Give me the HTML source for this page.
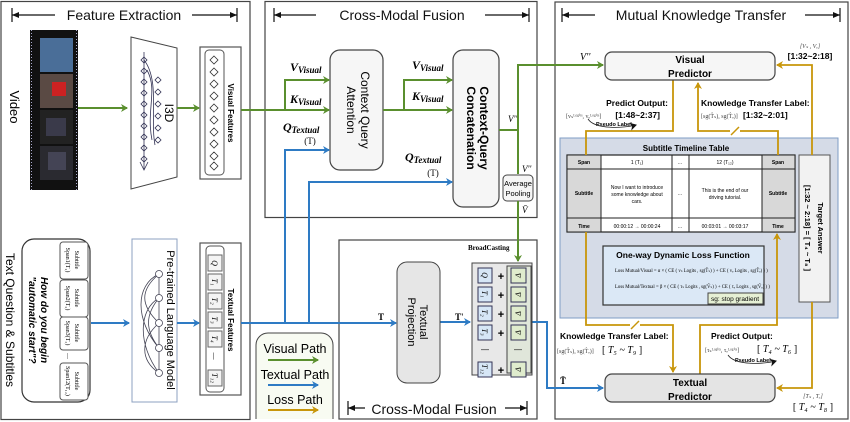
<!DOCTYPE html>
<html><head><meta charset="utf-8"><style>
html,body{margin:0;padding:0;background:#fff;}
svg{display:block;font-family:"Liberation Sans",sans-serif;}
.h{font-size:14px;fill:#111;}
.sr{font-family:"Liberation Serif",serif;}
</style></head><body>
<svg width="850" height="422" viewBox="0 0 850 422" xmlns="http://www.w3.org/2000/svg">
<defs>
<marker id="ag" markerWidth="8" markerHeight="8" refX="6" refY="4" orient="auto" markerUnits="userSpaceOnUse"><path d="M0,0 L7,4 L0,8 L2,4z" fill="#5a8f2e"/></marker>
<marker id="ab" markerWidth="8" markerHeight="8" refX="6" refY="4" orient="auto" markerUnits="userSpaceOnUse"><path d="M0,0 L7,4 L0,8 L2,4z" fill="#2e7bc4"/></marker>
<marker id="ay" markerWidth="8" markerHeight="8" refX="6" refY="4" orient="auto" markerUnits="userSpaceOnUse"><path d="M0,0 L7,4 L0,8 L2,4z" fill="#c8960a"/></marker>
<marker id="ak" markerWidth="8" markerHeight="8" refX="6" refY="4" orient="auto" markerUnits="userSpaceOnUse"><path d="M0,0 L7,4 L0,8 L2,4z" fill="#111"/></marker>
</defs>
<g fill="none" stroke="#444" stroke-width="1.2">
<rect x="1" y="1.5" width="249" height="418"/>
<rect x="265" y="1.5" width="272" height="216"/>
<rect x="339" y="240" width="198" height="179"/>
<rect x="555" y="2" width="293" height="417"/>
</g>
<g stroke="#111" stroke-width="1.2" fill="none">
<path d="M12,8V22M12,15H55"/><path d="M192,15H237M237,8V22"/>
<path d="M274,8V22M274,15H316"/><path d="M485,15H529M529,8V22"/>
<path d="M562,8V22M562,15H595"/><path d="M805,15H840M840,8V22"/>
<path d="M348,401V415M348,408H365"/><path d="M505,408H527M527,401V415"/>
</g>
<g fill="#111"><path d="M12,15l7,-3v6z"/><path d="M237,15l-7,-3v6z"/><path d="M274,15l7,-3v6z"/><path d="M529,15l-7,-3v6z"/><path d="M562,15l7,-3v6z"/><path d="M840,15l-7,-3v6z"/><path d="M348,408l7,-3v6z"/><path d="M527,408l-7,-3v6z"/></g>
<text x="124" y="20" text-anchor="middle" class="h">Feature Extraction</text>
<text x="402" y="20" text-anchor="middle" class="h">Cross-Modal Fusion</text>
<text x="701" y="20" text-anchor="middle" class="h">Mutual Knowledge Transfer</text>
<text x="434" y="414" text-anchor="middle" class="h">Cross-Modal Fusion</text>

<rect x="30" y="30" width="48" height="160" fill="#111"/>
<rect x="40" y="38" width="33" height="34" fill="#4a6e98"/>
<rect x="40" y="74" width="33" height="34" fill="#5a4a44"/><rect x="52" y="82" width="14" height="14" fill="#c22"/>
<rect x="40" y="110" width="33" height="34" fill="#222"/><rect x="46" y="118" width="20" height="18" fill="#3a3a4a"/>
<rect x="40" y="146" width="33" height="34" fill="#2a2a30"/><rect x="48" y="152" width="18" height="18" fill="#445"/>
<line x1="31.5" y1="30" x2="31.5" y2="190" stroke="#aac" stroke-dasharray="1 2"/><line x1="76.5" y1="30" x2="76.5" y2="190" stroke="#aac" stroke-dasharray="1 2"/>
<text transform="translate(10,107) rotate(90)" text-anchor="middle" font-size="13">Video</text>
<path d="M131,37 L177,48 L177,177 L131,189Z" fill="#fff" stroke="#444"/>
<g fill="none" stroke="#335" stroke-width="0.8">
<path d="M144,52v118"/><path d="M140,162l4,8l4,-8"/>
<path d="M144,57l3,3l-3,3l-3,-3z M144,68l3,3l-3,3l-3,-3z M144,79l3,3l-3,3l-3,-3z M144,90l3,3l-3,3l-3,-3z M144,101l3,3l-3,3l-3,-3z M144,112l3,3l-3,3l-3,-3z M144,123l3,3l-3,3l-3,-3z M144,134l3,3l-3,3l-3,-3z M144,145l3,3l-3,3l-3,-3z M144,156l3,3l-3,3l-3,-3z"/>
<path d="M158,77l3,3l-3,3l-3,-3z M158,89l3,3l-3,3l-3,-3z M158,101l3,3l-3,3l-3,-3z M158,113l3,3l-3,3l-3,-3z M158,125l3,3l-3,3l-3,-3z M158,137l3,3l-3,3l-3,-3z"/>
<path d="M144,60C160,80 150,120 155,145M147,70C158,90 146,110 152,140"/>
</g>
<text transform="translate(165,113) rotate(90)" text-anchor="middle" font-size="12">I3D</text>
<rect x="200" y="47" width="41" height="132" fill="#fff" stroke="#555" stroke-width="1.2"/>
<rect x="205" y="50" width="19" height="125" rx="4" fill="#fff" stroke="#555"/>
<g fill="none" stroke="#333" stroke-width="0.8">
<path d="M214,56l4,4l-4,4l-4,-4z M214,68l4,4l-4,4l-4,-4z M214,80l4,4l-4,4l-4,-4z M214,92l4,4l-4,4l-4,-4z M214,104l4,4l-4,4l-4,-4z M214,116l4,4l-4,4l-4,-4z M214,128l4,4l-4,4l-4,-4z M214,140l4,4l-4,4l-4,-4z M214,152l4,4l-4,4l-4,-4z M214,162l4,4l-4,4l-4,-4z"/></g>
<text transform="translate(228,113) rotate(90)" text-anchor="middle" font-size="8" font-weight="bold">Visual Features</text>

<rect x="22" y="239" width="68" height="163" rx="12" fill="#fff" stroke="#333" stroke-width="1.2"/>
<g fill="#fff" stroke="#555"><rect x="60" y="242" width="28" height="37" rx="3"/><rect x="60" y="280" width="28" height="37" rx="3"/><rect x="60" y="317" width="28" height="33" rx="3"/><rect x="60" y="363" width="28" height="37" rx="3"/></g>
<g font-family="Liberation Serif,serif" font-size="6">
<text transform="translate(75,260) rotate(90)" text-anchor="middle">Subtitle</text><text transform="translate(66,260) rotate(90)" text-anchor="middle">Span1(T₁)</text>
<text transform="translate(75,298) rotate(90)" text-anchor="middle">Subtitle</text><text transform="translate(66,298) rotate(90)" text-anchor="middle">Span2(T₂)</text>
<text transform="translate(75,333) rotate(90)" text-anchor="middle">Subtitle</text><text transform="translate(66,333) rotate(90)" text-anchor="middle">Span3(T₃)</text>
<text transform="translate(75,381) rotate(90)" text-anchor="middle">Subtitle</text><text transform="translate(66,381) rotate(90)" text-anchor="middle">Span12(T₁₂)</text>
<text transform="translate(66,356) rotate(90)" text-anchor="middle">—</text>
</g>
<text transform="translate(41,320) rotate(90)" text-anchor="middle" font-size="10" font-weight="bold" font-style="italic">How do you begin</text>
<text transform="translate(29,320) rotate(90)" text-anchor="middle" font-size="10" font-weight="bold" font-style="italic">"automatic start"?</text>
<text transform="translate(6,320) rotate(90)" text-anchor="middle" font-size="12">Text Question &amp; Subtitles</text>
<rect x="132" y="239" width="45" height="163" fill="#fff" stroke="#8ca0c0"/>
<g fill="#fff" stroke="#445" stroke-width="0.8">
<path d="M159,274v99" fill="none"/>
<path d="M159,274C135,285 135,320 159,348M159,298C138,310 138,345 159,373M159,274C140,290 140,305 159,323M159,298C145,315 145,330 159,348M159,323C140,340 140,360 159,373" fill="none"/>
<circle cx="159" cy="274" r="3.5"/><circle cx="159" cy="298" r="3.5"/><circle cx="159" cy="323" r="3.5"/><circle cx="159" cy="348" r="3.5"/><circle cx="159" cy="373" r="3.5"/></g>
<text transform="translate(167,320) rotate(90)" text-anchor="middle" font-size="11">Pre-trained Language Model</text>
<rect x="200" y="243" width="41" height="152" fill="#fff" stroke="#555" stroke-width="1.2"/>
<rect x="206" y="246" width="18" height="146" rx="4" fill="#fff" stroke="#555"/>
<g fill="#f4f4f4" stroke="#666"><rect x="208" y="255" width="14" height="16"/><rect x="208" y="274" width="14" height="16"/><rect x="208" y="293" width="14" height="16"/><rect x="208" y="312" width="14" height="16"/><rect x="208" y="331" width="14" height="16"/><rect x="208" y="370" width="14" height="16"/></g>
<g font-family="Liberation Serif,serif" font-style="italic" font-size="8">
<text transform="translate(212,263) rotate(90)" text-anchor="middle">Q</text><text transform="translate(212,282) rotate(90)" text-anchor="middle">T₁</text><text transform="translate(212,301) rotate(90)" text-anchor="middle">T₂</text><text transform="translate(212,320) rotate(90)" text-anchor="middle">T₃</text><text transform="translate(212,339) rotate(90)" text-anchor="middle">T₄</text><text transform="translate(212,378) rotate(90)" text-anchor="middle">T₁₂</text><text transform="translate(212,356) rotate(90)" text-anchor="middle">—</text></g>
<text transform="translate(228,320) rotate(90)" text-anchor="middle" font-size="8" font-weight="bold">Textual Features</text>

<path d="M256,419V345a12,12 0 0 1 12,-12H321a12,12 0 0 1 12,12V419" fill="#f8fbf2" stroke="#444"/>
<text x="295" y="353" text-anchor="middle" font-size="12.5">Visual Path</text>
<text x="295" y="379" text-anchor="middle" font-size="12.5">Textual Path</text>
<text x="295" y="404" text-anchor="middle" font-size="12.5">Loss Path</text>
<line x1="268" y1="360" x2="318" y2="360" stroke="#5a8f2e" stroke-width="2" marker-end="url(#ag)"/>
<line x1="268" y1="385" x2="318" y2="385" stroke="#2e7bc4" stroke-width="2" marker-end="url(#ab)"/>
<line x1="268" y1="410" x2="318" y2="410" stroke="#c8960a" stroke-width="2" marker-end="url(#ay)"/>

<rect x="330" y="50" width="53" height="120" rx="10" fill="#f6f6f6" stroke="#444" stroke-width="1.2"/>
<text transform="translate(361,110) rotate(90)" text-anchor="middle" font-size="12">Context Query</text>
<text transform="translate(347,110) rotate(90)" text-anchor="middle" font-size="12">Attention</text>
<rect x="453" y="50" width="46" height="157" rx="10" fill="#f6f6f6" stroke="#444" stroke-width="1.2"/>
<text transform="translate(480,128) rotate(90)" text-anchor="middle" font-size="12" font-weight="bold">Context-Query</text>
<text transform="translate(467,128) rotate(90)" text-anchor="middle" font-size="12" font-weight="bold">Concatenation</text>
<rect x="503" y="175" width="30" height="26" rx="4" fill="#f6f6f6" stroke="#444"/>
<text x="518" y="186" text-anchor="middle" font-size="7.5">Average</text><text x="518" y="196" text-anchor="middle" font-size="7.5">Pooling</text>

<g class="sr" font-weight="bold" font-style="italic">
<text x="290" y="71" font-size="12">V<tspan font-size="9" dy="2">Visual</tspan></text>
<text x="290" y="103" font-size="12">K<tspan font-size="9" dy="2">Visual</tspan></text>
<text x="283" y="131" font-size="12">Q<tspan font-size="9" dy="2">Textual</tspan></text>
<text x="412" y="69" font-size="12">V<tspan font-size="9" dy="2">Visual</tspan></text>
<text x="412" y="100" font-size="12">K<tspan font-size="9" dy="2">Visual</tspan></text>
<text x="405" y="161" font-size="12">Q<tspan font-size="9" dy="2">Textual</tspan></text>
</g>
<g class="sr" font-size="9"><text x="310" y="144" text-anchor="middle">(T)</text><text x="433" y="176" text-anchor="middle">(T)</text>
<text x="508" y="122" font-style="italic">V''</text><text x="522" y="172" font-style="italic">V''</text><text x="522" y="213" font-style="italic">V̄</text>
<text x="580" y="60" font-style="italic" font-size="10">V''</text>
<text x="378" y="320" font-weight="bold">T</text><text x="455" y="320" font-weight="bold">T'</text><text x="560" y="384" font-weight="bold">T̄</text></g>

<g stroke="#5a8f2e" stroke-width="2" fill="none">
<line x1="78" y1="108" x2="127" y2="108" marker-end="url(#ag)"/>
<line x1="177" y1="108" x2="199" y2="108" marker-end="url(#ag)"/>
<path d="M241,110H329" marker-end="url(#ag)"/><path d="M285,110V80H329" marker-end="url(#ag)"/>
<path d="M383,110H452" marker-end="url(#ag)"/><path d="M404,110V80H452" marker-end="url(#ag)"/>
<path d="M499,130H518"/><path d="M518,174V65H603" marker-end="url(#ag)"/>
<path d="M518,201V261" marker-end="url(#ag)"/>
</g>
<g stroke="#2e7bc4" stroke-width="2" fill="none">
<line x1="91" y1="323" x2="129" y2="323" marker-end="url(#ab)"/>
<line x1="177" y1="323" x2="199" y2="323" marker-end="url(#ab)"/>
<path d="M241,323H396" marker-end="url(#ab)"/>
<path d="M285,323V150H329" marker-end="url(#ab)"/>
<path d="M309,323V182H452" marker-end="url(#ab)"/>
<path d="M440,322H470" marker-end="url(#ab)"/>
<path d="M532,322H547V388H603" marker-end="url(#ab)"/>
</g>

<rect x="397" y="262" width="43" height="121" rx="10" fill="#e6e6e6" stroke="#444"/>
<text transform="translate(420,322) rotate(90)" text-anchor="middle" font-size="11">Textual</text>
<text transform="translate(408,322) rotate(90)" text-anchor="middle" font-size="11">Projection</text>
<text x="468" y="250" font-size="7" font-weight="bold" class="sr">BroadCasting</text>
<rect x="472" y="263" width="60" height="112" fill="#e8e8e8" stroke="#444"/>
<rect x="507" y="266" width="24" height="107" fill="#e0e6da" stroke="#444"/>
<g fill="#d6e6f6" stroke="#335"><rect x="478" y="268" width="14" height="15"/><rect x="478" y="287" width="14" height="15"/><rect x="478" y="306" width="14" height="15"/><rect x="478" y="325" width="14" height="15"/><rect x="478" y="362" width="14" height="15"/></g>
<g fill="#dfeccd" stroke="#335"><rect x="511" y="268" width="15" height="15"/><rect x="511" y="287" width="15" height="15"/><rect x="511" y="306" width="15" height="15"/><rect x="511" y="325" width="15" height="15"/><rect x="511" y="362" width="15" height="15"/></g>
<g font-family="Liberation Serif,serif" font-style="italic" font-size="8">
<text transform="translate(482,275) rotate(90)" text-anchor="middle">Q</text><text transform="translate(482,294) rotate(90)" text-anchor="middle">T₁</text><text transform="translate(482,313) rotate(90)" text-anchor="middle">T₂</text><text transform="translate(482,332) rotate(90)" text-anchor="middle">T₃</text><text transform="translate(482,369) rotate(90)" text-anchor="middle">T₁₂</text>
<text transform="translate(515,275) rotate(90)" text-anchor="middle">V̄</text><text transform="translate(515,294) rotate(90)" text-anchor="middle">V̄</text><text transform="translate(515,313) rotate(90)" text-anchor="middle">V̄</text><text transform="translate(515,332) rotate(90)" text-anchor="middle">V̄</text><text transform="translate(515,369) rotate(90)" text-anchor="middle">V̄</text></g>
<g font-size="11" font-weight="bold" text-anchor="middle"><text x="501" y="280">+</text><text x="501" y="299">+</text><text x="501" y="318">+</text><text x="501" y="337">+</text><text x="501" y="374">+</text></g>
<text x="485" y="352" font-size="8" text-anchor="middle">—</text><text x="518" y="352" font-size="8" text-anchor="middle">—</text>

<rect x="560" y="138" width="278" height="180" fill="#d5dbe7" stroke="#7f9cc5"/>
<text x="686" y="151" text-anchor="middle" font-size="8" font-weight="bold">Subtitle Timeline Table</text>
<rect x="567" y="155" width="228" height="77" fill="#fff" stroke="#222" stroke-width="1.2"/>
<rect x="567" y="155" width="34" height="77" fill="#d8d8d8" stroke="#222"/>
<rect x="762" y="155" width="33" height="77" fill="#d8d8d8" stroke="#222"/>
<g stroke="#222"><line x1="672" y1="155" x2="672" y2="232"/><line x1="689" y1="155" x2="689" y2="232"/><line x1="567" y1="169" x2="795" y2="169"/><line x1="567" y1="218" x2="795" y2="218"/></g>
<g font-size="5" text-anchor="middle">
<text x="584" y="164" font-weight="bold">Span</text><text x="778" y="164" font-weight="bold">Span</text>
<text x="584" y="195" font-weight="bold">Subtitle</text><text x="778" y="195" font-weight="bold">Subtitle</text>
<text x="584" y="228" font-weight="bold">Time</text><text x="778" y="228" font-weight="bold">Time</text>
<text x="637" y="164">1 (T₁)</text><text x="725" y="164">12 (T₁₂)</text><text x="680" y="164">...</text><text x="680" y="195">...</text><text x="680" y="228">...</text>
<text x="637" y="189">Now I want to introduce</text><text x="637" y="196">some knowledge about</text><text x="637" y="203">cars.</text>
<text x="725" y="192">This is the end of our</text><text x="725" y="199">driving tutorial.</text>
<text x="637" y="228">00:00:12 → 00:00:24</text><text x="725" y="228">00:03:01 → 00:03:17</text></g>
<rect x="603" y="246" width="161" height="59" fill="#dbe8f6" stroke="#333" stroke-width="1.2"/>
<text x="683" y="258" text-anchor="middle" font-size="8.5" font-weight="bold">One-way Dynamic Loss Function</text>
<g font-size="4.8" font-family="Liberation Serif,serif"><text x="615" y="272">Loss Mutual/Visual = α × ( CE ( vₛ Logits , sg(T̂ₛ) ) + CE ( vₑ Logits , sg(T̂ₑ) ) )</text>
<text x="615" y="288">Loss Mutual/Textual = β × ( CE ( τₛ Logits , sg(V̂ₛ) ) + CE ( τₑ Logits , sg(V̂ₑ) ) )</text></g>
<rect x="708" y="293" width="55" height="11" fill="#e6f0d4" stroke="#444"/>
<text x="735" y="301" text-anchor="middle" font-size="6.5">sg: stop gradient</text>
<rect x="799" y="155" width="31" height="147" fill="#f2f2f2" stroke="#555"/>
<text transform="translate(818,228) rotate(90)" text-anchor="middle" font-size="7.5" font-weight="bold">Target Answer</text>
<text transform="translate(805,228) rotate(90)" text-anchor="middle" font-size="7.5" font-weight="bold">[1:32 ~ 2:18] = [ T₄ ~ T₈ ]</text>

<g stroke="#c8960a" stroke-width="1.8" fill="none">
<path d="M673,80V131H586V155"/>
<path d="M586,232V325H673V372" marker-end="url(#ay)"/>
<path d="M700,374V325H777V234" marker-end="url(#ay)"/>
<path d="M778,155V131H698V83" marker-end="url(#ay)"/>
<path d="M812,155V65H777" marker-end="url(#ay)"/>
<path d="M812,302V388H777" marker-end="url(#ay)"/>
</g>
<g stroke="#fff" stroke-width="4"><line x1="730" y1="131" x2="740" y2="131"/><line x1="630" y1="325" x2="640" y2="325"/></g>
<g stroke="#c8960a" stroke-width="1.5"><line x1="731" y1="135" x2="739" y2="127"/><line x1="631" y1="329" x2="639" y2="321"/></g>

<rect x="605" y="52" width="170" height="28" rx="7" fill="#f6f6f6" stroke="#444" stroke-width="1.2"/>
<text x="690" y="63" text-anchor="middle" font-size="10" font-weight="bold">Visual</text><text x="690" y="77" text-anchor="middle" font-size="10" font-weight="bold">Predictor</text>
<rect x="605" y="374" width="170" height="28" rx="7" fill="#e4e4e4" stroke="#444" stroke-width="1.2"/>
<text x="690" y="386" text-anchor="middle" font-size="10" font-weight="bold">Textual</text><text x="690" y="400" text-anchor="middle" font-size="10" font-weight="bold">Predictor</text>

<g font-size="8.5" font-weight="bold">
<text x="668" y="106" text-anchor="end">Predict Output:</text>
<text x="701" y="106">Knowledge Transfer Label:</text>
<text x="560" y="339">Knowledge Transfer Label:</text>
<text x="711" y="339">Predict Output:</text>
<text x="660" y="118" text-anchor="end">[1:48~2:37]</text>
<text x="743" y="118">[1:32~2:01]</text>
<text x="810" y="59" text-anchor="middle">[1:32~2:18]</text>
</g>
<g font-family="Liberation Serif,serif" font-size="6" fill="#444">
<text x="566" y="118">[vₛᴸᵒᵍⁱᵗˢ, vₑᴸᵒᵍⁱᵗˢ]</text>
<text x="701" y="118">[sg(T̂ₛ), sg(T̂ₑ)]</text>
<text x="557" y="353">[sg(T̂ₛ), sg(T̂ₑ)]</text>
<text x="705" y="352">[τₛᴸᵒᵍⁱᵗˢ, τₑᴸᵒᵍⁱᵗˢ]</text>
<text x="810" y="48" text-anchor="middle" font-style="italic">[Vₛ , Vₑ]</text>
<text x="813" y="398" text-anchor="middle" font-style="italic">[Tₛ , Tₑ]</text>
</g>
<g font-family="Liberation Serif,serif" font-size="10">
<text x="602" y="353">[ <tspan font-style="italic">T₅ ~ T₉</tspan> ]</text>
<text x="757" y="352">[ <tspan font-style="italic">T₄ ~ T₆</tspan> ]</text>
<text x="813" y="410" text-anchor="middle">[ <tspan font-style="italic">T₄ ~ T₈</tspan> ]</text>
</g>
<g font-size="5.5" font-weight="bold"><text x="596" y="126">Pseudo Label</text><text x="735" y="362">Pseudo Label</text></g>
<path d="M588,119C595,130 625,128 636,125" stroke="#222" fill="none" marker-end="url(#ak)" stroke-width="0.8"/>
<path d="M728,355C735,366 765,364 776,361" stroke="#222" fill="none" marker-end="url(#ak)" stroke-width="0.8"/>
</svg>
</body></html>
